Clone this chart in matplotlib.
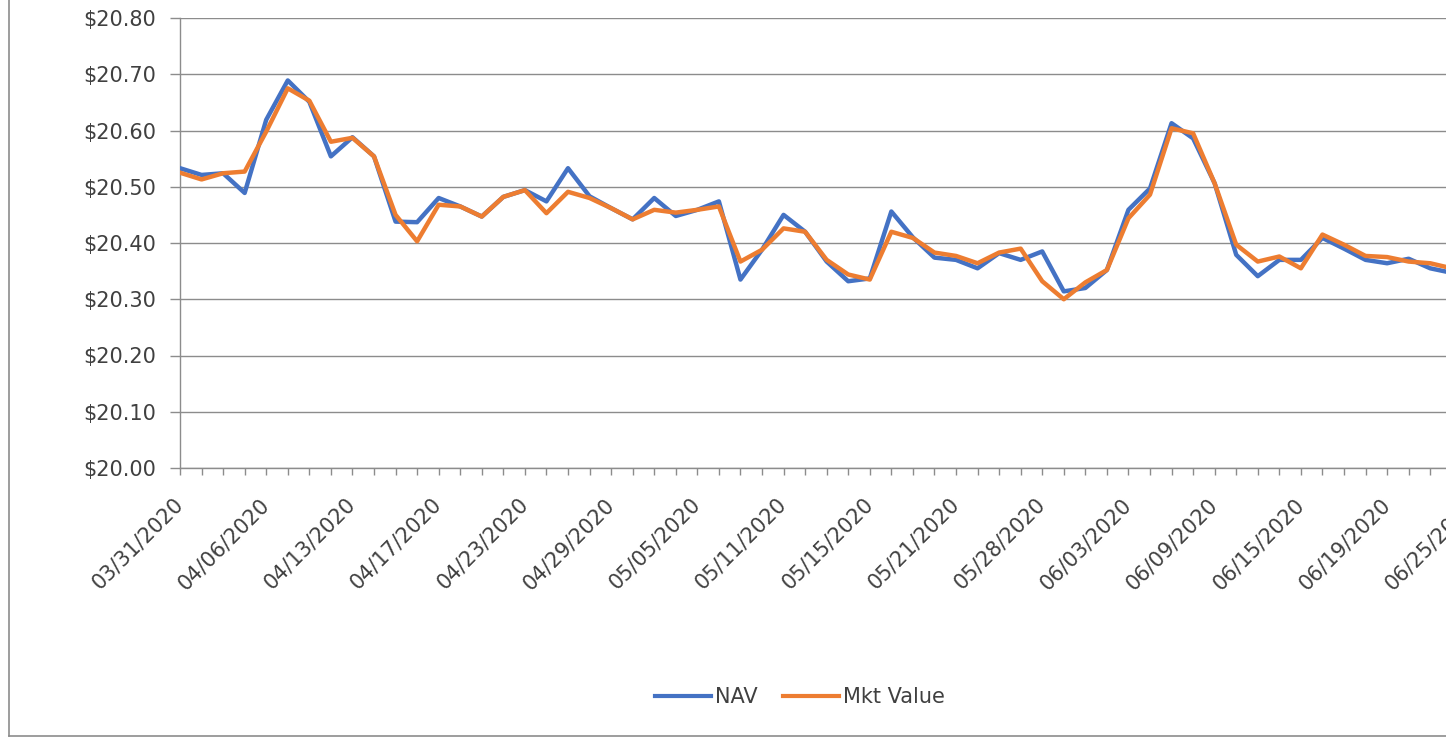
import matplotlib
matplotlib.use("Agg")
import matplotlib.pyplot as plt
from matplotlib.lines import Line2D

plt.rcParams['font.family'] = ['DejaVu Sans']

dates = ["03/31/2020", "04/01/2020", "04/02/2020", "04/03/2020", "04/06/2020", "04/07/2020",
         "04/08/2020", "04/09/2020", "04/13/2020", "04/14/2020", "04/15/2020", "04/16/2020",
         "04/17/2020", "04/20/2020", "04/21/2020", "04/22/2020", "04/23/2020", "04/24/2020",
         "04/27/2020", "04/28/2020", "04/29/2020", "04/30/2020", "05/01/2020", "05/04/2020",
         "05/05/2020", "05/06/2020", "05/07/2020", "05/08/2020", "05/11/2020", "05/12/2020",
         "05/13/2020", "05/14/2020", "05/15/2020", "05/18/2020", "05/19/2020", "05/20/2020",
         "05/21/2020", "05/22/2020", "05/26/2020", "05/27/2020", "05/28/2020", "05/29/2020",
         "06/01/2020", "06/02/2020", "06/03/2020", "06/04/2020", "06/05/2020", "06/08/2020",
         "06/09/2020", "06/10/2020", "06/11/2020", "06/12/2020", "06/15/2020", "06/16/2020",
         "06/17/2020", "06/18/2020", "06/19/2020", "06/22/2020", "06/23/2020", "06/24/2020",
         "06/25/2020", "06/26/2020", "06/29/2020", "06/30/2020"]

nav = [20.533, 20.521, 20.524, 20.489, 20.619, 20.689, 20.651, 20.554, 20.588, 20.554,
       20.438, 20.437, 20.480, 20.465, 20.447, 20.482, 20.494, 20.474, 20.533, 20.483,
       20.462, 20.442, 20.480, 20.448, 20.459, 20.474, 20.335, 20.388, 20.450, 20.420,
       20.367, 20.332, 20.337, 20.456, 20.410, 20.374, 20.370, 20.355, 20.382, 20.370,
       20.385, 20.314, 20.320, 20.352, 20.459, 20.497, 20.613, 20.586, 20.506, 20.379,
       20.341, 20.370, 20.370, 20.409, 20.390, 20.370, 20.364, 20.372, 20.355, 20.347,
       20.345]

mkt = [20.525, 20.513, 20.524, 20.527, 20.598, 20.675, 20.653, 20.580, 20.587, 20.554,
       20.450, 20.403, 20.468, 20.465, 20.447, 20.482, 20.494, 20.453, 20.491, 20.480,
       20.462, 20.442, 20.459, 20.454, 20.459, 20.465, 20.367, 20.388, 20.426, 20.420,
       20.370, 20.344, 20.335, 20.420, 20.409, 20.383, 20.377, 20.364, 20.383, 20.390,
       20.332, 20.300, 20.330, 20.352, 20.444, 20.486, 20.604, 20.595, 20.506, 20.397,
       20.367, 20.376, 20.355, 20.415, 20.397, 20.377, 20.375, 20.367, 20.364, 20.355,
       20.350]

yticks = [20.00, 20.10, 20.20, 20.30, 20.40, 20.50, 20.60, 20.70, 20.80]

W, H = 1446, 738
fig = plt.figure(figsize=(W / 100, H / 100), dpi=100)
ax = fig.add_axes([180 / W, (H - 468) / H, (1538 - 180) / W, 450 / H])

grid_c = '#8c8c8c'
text_c = '#404040'
fs = 15

ax.plot(range(len(nav)), nav, color='#4472C4', lw=3.2, solid_joinstyle='round', label='NAV', zorder=3)
ax.plot(range(len(mkt)), mkt, color='#ED7D31', lw=3.2, solid_joinstyle='round', label='Mkt Value', zorder=4)

ax.set_xlim(0, len(dates) - 1)
ax.set_ylim(yticks[0], yticks[-1])
ax.set_yticks(yticks)
ax.set_yticklabels(['${:.2f}'.format(v) for v in yticks], fontsize=fs, color=text_c)
ax.yaxis.grid(True, color=grid_c, lw=1.0)
ax.set_axisbelow(True)

ax.set_xticks(range(len(dates)))
ax.set_xticklabels([d if i % 4 == 0 else '' for i, d in enumerate(dates)],
                   rotation=45, ha='right', va='center', rotation_mode='anchor',
                   fontsize=fs, color=text_c)

ax.tick_params(axis='y', length=7.2, width=1.0, color=grid_c, pad=10)
ax.tick_params(axis='x', length=5, width=1.0, color=grid_c, pad=19)

for s in ['top', 'right']:
    ax.spines[s].set_visible(False)
for s in ['left', 'bottom']:
    ax.spines[s].set_color(grid_c)
    ax.spines[s].set_linewidth(1.0)

leg = fig.legend(loc='center', bbox_to_anchor=(800 / W, 41 / H), ncol=2, frameon=False,
                 handlelength=2.7, handletextpad=0.2, columnspacing=1.2, fontsize=fs)
for t in leg.get_texts():
    t.set_color(text_c)
for l in leg.get_lines():
    l.set_linewidth(3)

# chart border (partially visible)
fig.add_artist(Line2D([8.5 / W, 8.5 / W], [2.5 / H, 1.0], transform=fig.transFigure, color=grid_c, lw=1.2))
fig.add_artist(Line2D([8.5 / W, 1.0], [2.5 / H, 2.5 / H], transform=fig.transFigure, color=grid_c, lw=1.2))

fig.savefig('out.png', dpi=100)
